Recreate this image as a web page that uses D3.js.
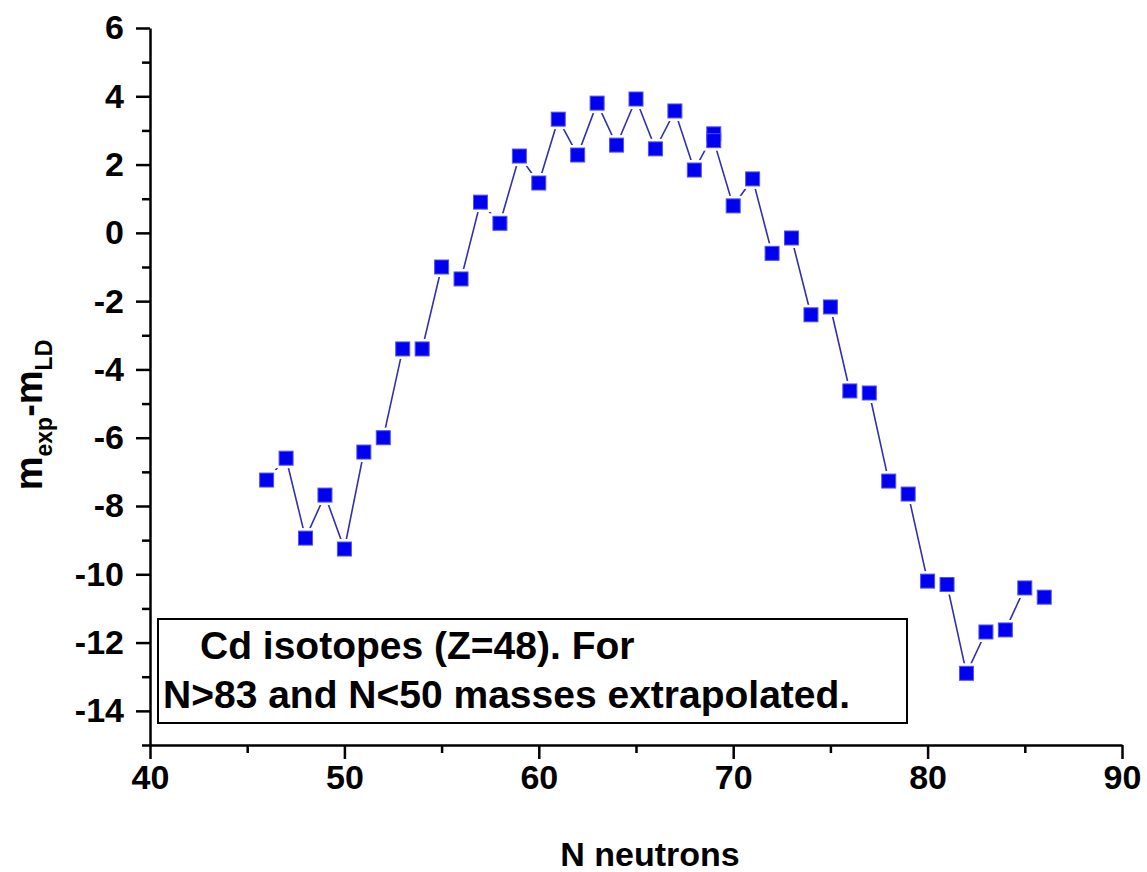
<!DOCTYPE html>
<meta charset="utf-8">
<title>Cd isotopes mass difference</title>
<style>
body { margin: 0; background: white; }
svg { font-family: Arial, "Liberation Sans", sans-serif; font-weight: bold; }
.axis path, .axis line { stroke: black; stroke-width: 2.5px; }
.axis text { font-size: 34px; font-weight: bold; fill: black; }
</style>
<body>
<div id="chart"></div>
<script src="https://d3js.org/d3.v7.min.js"></script>
<script>

// neutron numbers and mass differences (N=69 has two points)
var neutrons = [46, 47, 48, 49, 50, 51, 52, 53, 54, 55, 56, 57, 58, 59, 60, 61, 62, 63, 64, 65, 66, 67, 68, 69, 69, 70, 71, 72, 73, 74, 75, 76, 77, 78, 79, 80, 81, 82, 83, 84, 85, 86];
var massDiff = [-7.24, -6.6, -8.94, -7.68, -9.26, -6.42, -6.0, -3.4, -3.4, -1.0, -1.35, 0.9, 0.28, 2.25, 1.46, 3.33, 2.28, 3.8, 2.57, 3.92, 2.46, 3.57, 1.84, 2.9, 2.7, 0.79, 1.58, -0.6, -0.15, -2.4, -2.17, -4.63, -4.69, -7.27, -7.65, -10.2, -10.3, -12.9, -11.69, -11.63, -10.4, -10.67];

var xTicks = [40, 50, 60, 70, 80, 90];
var xMinor = [45, 55, 65, 75, 85];
var yTicks = [-14, -12, -10, -8, -6, -4, -2, 0, 2, 4, 6];
var yMinor = [-15, -13, -11, -9, -7, -5, -3, -1, 1, 3, 5];
var boxLines = ["Cd isotopes (Z=48). For", "N>83 and N<50 masses extrapolated."];

var width = 1147, height = 872;

var svg = d3.select("#chart").append("svg")
    .attr("width", width)
    .attr("height", height);

var x = d3.scaleLinear().domain([40, 90]).range([150, 1122]);
var y = d3.scaleLinear().domain([-15, 6]).range([745, 28]);

var data = neutrons.map(function(n, i) { return {n: n, v: massDiff[i]}; });

// plain hyphen for negatives, like the original
var fmt = function(d) { return String(d); };

// X axis
svg.append("g")
    .attr("class", "axis")
    .attr("transform", "translate(0," + y(-15) + ")")
    .call(d3.axisBottom(x).tickValues(xTicks).tickFormat(fmt).tickSize(14).tickPadding(6).tickSizeOuter(0));
svg.append("g")
    .attr("class", "axis")
    .attr("transform", "translate(0," + y(-15) + ")")
    .call(d3.axisBottom(x).tickValues(xMinor).tickSize(8).tickFormat("").tickSizeOuter(0))
    .select(".domain").remove();

// Y axis
svg.append("g")
    .attr("class", "axis")
    .attr("transform", "translate(" + x(40) + ",0)")
    .call(d3.axisLeft(y).tickValues(yTicks).tickFormat(fmt).tickSize(14).tickPadding(12).tickSizeOuter(0));
svg.append("g")
    .attr("class", "axis")
    .attr("transform", "translate(" + x(40) + ",0)")
    .call(d3.axisLeft(y).tickValues(yMinor).tickSize(8).tickFormat("").tickSizeOuter(0))
    .select(".domain").remove();

// axis titles
svg.append("text")
    .attr("x", 650)
    .attr("y", 866)
    .attr("text-anchor", "middle")
    .style("font-size", "34px")
    .text("N neutrons");

var ylab = svg.append("text")
    .attr("transform", "translate(42,415) rotate(-90)")
    .attr("text-anchor", "middle")
    .style("font-size", "38px");
ylab.append("tspan").text("m");
ylab.append("tspan").attr("dy", 10).style("font-size", "23px").text("exp");
ylab.append("tspan").attr("dy", -10).text("-m");
ylab.append("tspan").attr("dy", 10).style("font-size", "23px").text("LD");

// connecting line
var line = d3.line()
    .x(function(d) { return x(d.n); })
    .y(function(d) { return y(d.v); });

svg.append("path")
    .datum(data)
    .attr("d", line)
    .attr("fill", "none")
    .attr("stroke", "#3030b0")
    .attr("stroke-width", 1.6);

// white gap around markers
svg.selectAll("rect.gap")
    .data(data)
    .enter().append("rect")
    .attr("class", "gap")
    .attr("x", function(d) { return x(d.n) - 10; })
    .attr("y", function(d) { return y(d.v) - 10; })
    .attr("width", 20)
    .attr("height", 20)
    .attr("fill", "white");

// markers
svg.selectAll("rect.pt")
    .data(data)
    .enter().append("rect")
    .attr("class", "pt")
    .attr("x", function(d) { return x(d.n) - 7; })
    .attr("y", function(d) { return y(d.v) - 7; })
    .attr("width", 14)
    .attr("height", 14)
    .attr("fill", "#0000f0")
    .attr("stroke", "#5050ff")
    .attr("stroke-width", 1);

// annotation box
svg.append("rect")
    .attr("x", 158)
    .attr("y", 619)
    .attr("width", 749)
    .attr("height", 104)
    .attr("fill", "white")
    .attr("stroke", "black")
    .attr("stroke-width", 2);

svg.selectAll("text.note")
    .data(boxLines)
    .enter().append("text")
    .attr("class", "note")
    .attr("x", function(d, i) { return i === 0 ? 200 : 163; })
    .attr("y", function(d, i) { return 659 + i * 49; })
    .style("font-size", "39px")
    .text(function(d) { return d; });

</script>
</body>
